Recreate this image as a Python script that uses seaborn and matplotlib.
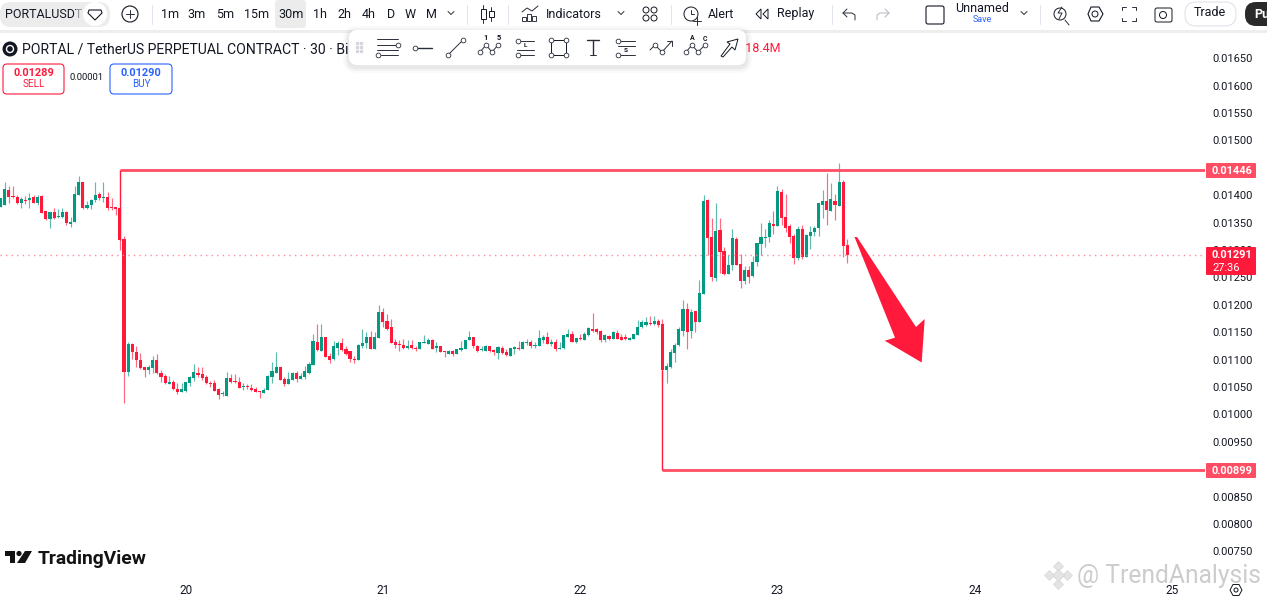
import numpy as np
import pandas as pd
import matplotlib
matplotlib.use('Agg')
import matplotlib.pyplot as plt
from matplotlib.patches import Circle, FancyBboxPatch, Polygon, Rectangle
import seaborn as sns

# 30 minute candles, prices in units of 0.00001
opens = [1379, 1382, 1410, 1399, 1396, 1386, 1392, 1391, 1396, 1385,
         1399, 1371, 1356, 1369, 1360, 1360, 1369, 1347, 1351, 1400,
         1424, 1376, 1382, 1391, 1402, 1394, 1397, 1378, 1378, 1377,
         1320, 1078, 1129, 1114, 1100, 1086, 1081, 1084, 1100, 1076,
         1070, 1056, 1060, 1047, 1040, 1042, 1057, 1067, 1076, 1073,
         1068, 1058, 1057, 1046, 1037, 1034, 1067, 1060, 1060, 1050,
         1051, 1049, 1047, 1042, 1039, 1044, 1068, 1076, 1087, 1065,
         1056, 1063, 1075, 1065, 1068, 1076, 1090, 1132, 1116, 1142,
         1107, 1101, 1122, 1131, 1119, 1115, 1101, 1099, 1124, 1130,
         1142, 1119, 1139, 1186, 1170, 1159, 1133, 1129, 1126, 1122,
         1126, 1122, 1119, 1131, 1129, 1135, 1122, 1124, 1115, 1111,
         1116, 1111, 1118, 1119, 1135, 1141, 1125, 1118, 1116, 1125,
         1117, 1112, 1121, 1114, 1107, 1119, 1122, 1119, 1131, 1132,
         1124, 1125, 1136, 1141, 1128, 1133, 1120, 1121, 1141, 1147,
         1132, 1139, 1136, 1145, 1156, 1155, 1152, 1135, 1143, 1138,
         1149, 1142, 1141, 1136, 1138, 1145, 1159, 1163, 1167, 1165,
         1170, 1165, 1081, 1086, 1112, 1126, 1152, 1193, 1152, 1188,
         1169, 1219, 1391, 1323, 1248, 1337, 1298, 1257, 1272, 1320,
         1275, 1243, 1264, 1253, 1278, 1311, 1322, 1323, 1347, 1344,
         1406, 1361, 1344, 1326, 1285, 1339, 1288, 1326, 1332, 1340,
         1382, 1390, 1372, 1390, 1381, 1424, 1309]
closes = [1394, 1411, 1396, 1396, 1385, 1393, 1390, 1395, 1386, 1397,
          1367, 1356, 1369, 1359, 1362, 1369, 1349, 1352, 1402, 1424,
          1376, 1382, 1391, 1400, 1394, 1397, 1376, 1376, 1374, 1318,
          1078, 1129, 1113, 1099, 1084, 1081, 1086, 1100, 1075, 1068,
          1057, 1060, 1046, 1040, 1047, 1060, 1068, 1078, 1071, 1067,
          1057, 1056, 1043, 1036, 1039, 1067, 1059, 1059, 1049, 1052,
          1050, 1045, 1041, 1040, 1045, 1070, 1079, 1086, 1063, 1056,
          1065, 1075, 1065, 1070, 1080, 1092, 1134, 1118, 1142, 1104,
          1099, 1125, 1130, 1118, 1110, 1101, 1100, 1127, 1130, 1142,
          1119, 1142, 1186, 1168, 1155, 1131, 1127, 1127, 1122, 1125,
          1121, 1119, 1132, 1132, 1136, 1119, 1124, 1113, 1113, 1116,
          1110, 1119, 1121, 1136, 1141, 1124, 1115, 1119, 1125, 1115,
          1113, 1123, 1112, 1108, 1121, 1123, 1119, 1133, 1132, 1124,
          1125, 1140, 1141, 1129, 1133, 1119, 1122, 1144, 1147, 1133,
          1139, 1137, 1147, 1157, 1153, 1151, 1136, 1144, 1138, 1151,
          1138, 1136, 1138, 1140, 1146, 1160, 1168, 1169, 1165, 1170,
          1163, 1081, 1089, 1114, 1127, 1155, 1193, 1151, 1187, 1169,
          1221, 1390, 1321, 1250, 1335, 1297, 1256, 1272, 1321, 1273,
          1244, 1264, 1250, 1278, 1313, 1323, 1324, 1349, 1344, 1407,
          1359, 1341, 1324, 1285, 1338, 1287, 1328, 1333, 1341, 1385,
          1390, 1373, 1393, 1382, 1424, 1308, 1291]
highs = [1395, 1425, 1416, 1417, 1400, 1397, 1399, 1404, 1400, 1400,
         1400, 1372, 1370, 1376, 1374, 1377, 1371, 1360, 1416, 1435,
         1425, 1389, 1393, 1425, 1406, 1425, 1405, 1394, 1379, 1377,
         1326, 1133, 1131, 1124, 1112, 1087, 1090, 1107, 1110, 1081,
         1073, 1070, 1063, 1057, 1057, 1060, 1070, 1092, 1086, 1086,
         1072, 1061, 1063, 1048, 1043, 1078, 1074, 1074, 1068, 1057,
         1056, 1056, 1050, 1043, 1048, 1072, 1096, 1113, 1087, 1069,
         1078, 1078, 1080, 1076, 1088, 1095, 1147, 1165, 1165, 1142,
         1112, 1134, 1134, 1139, 1124, 1116, 1107, 1128, 1155, 1150,
         1152, 1150, 1200, 1195, 1183, 1175, 1137, 1136, 1137, 1135,
         1135, 1125, 1132, 1144, 1140, 1137, 1133, 1125, 1116, 1117,
         1117, 1119, 1134, 1136, 1152, 1142, 1127, 1124, 1127, 1125,
         1119, 1125, 1125, 1120, 1121, 1125, 1134, 1134, 1138, 1135,
         1132, 1154, 1144, 1150, 1137, 1137, 1133, 1144, 1156, 1152,
         1140, 1146, 1151, 1159, 1185, 1158, 1154, 1147, 1144, 1152,
         1154, 1147, 1146, 1141, 1146, 1172, 1173, 1177, 1180, 1179,
         1175, 1175, 1093, 1119, 1130, 1159, 1208, 1203, 1193, 1188,
         1245, 1400, 1393, 1358, 1385, 1359, 1306, 1291, 1338, 1323,
         1293, 1270, 1270, 1289, 1313, 1349, 1339, 1355, 1371, 1417,
         1411, 1402, 1348, 1330, 1343, 1345, 1329, 1343, 1344, 1385,
         1410, 1440, 1422, 1402, 1458, 1427, 1320]
lows = [1378, 1382, 1385, 1394, 1384, 1377, 1384, 1377, 1385, 1383,
        1367, 1355, 1341, 1356, 1358, 1358, 1345, 1342, 1351, 1400,
        1375, 1375, 1375, 1388, 1391, 1388, 1373, 1373, 1364, 1300,
        1020, 1070, 1102, 1087, 1082, 1069, 1074, 1076, 1074, 1059,
        1056, 1056, 1045, 1037, 1040, 1040, 1051, 1061, 1069, 1063,
        1055, 1050, 1042, 1029, 1034, 1034, 1057, 1057, 1048, 1045,
        1046, 1043, 1040, 1030, 1039, 1044, 1058, 1076, 1062, 1052,
        1056, 1062, 1059, 1065, 1065, 1074, 1090, 1116, 1116, 1104,
        1093, 1099, 1108, 1116, 1108, 1096, 1094, 1099, 1122, 1121,
        1119, 1119, 1139, 1160, 1154, 1131, 1122, 1116, 1119, 1119,
        1119, 1116, 1119, 1130, 1129, 1119, 1113, 1113, 1104, 1110,
        1106, 1111, 1115, 1119, 1135, 1121, 1113, 1115, 1116, 1114,
        1109, 1102, 1111, 1107, 1106, 1111, 1118, 1119, 1126, 1122,
        1122, 1125, 1131, 1128, 1124, 1115, 1119, 1120, 1141, 1132,
        1131, 1135, 1136, 1143, 1151, 1147, 1132, 1132, 1135, 1138,
        1137, 1135, 1135, 1136, 1138, 1144, 1158, 1161, 1163, 1163,
        1159, 1060, 1058, 1084, 1095, 1124, 1143, 1119, 1139, 1151,
        1169, 1219, 1290, 1244, 1244, 1258, 1254, 1256, 1264, 1272,
        1230, 1238, 1240, 1251, 1270, 1290, 1306, 1315, 1329, 1343,
        1346, 1333, 1312, 1275, 1281, 1284, 1287, 1301, 1326, 1326,
        1358, 1346, 1371, 1355, 1381, 1288, 1277]

day_ticks = [20, 21, 22, 23, 24, 25]
price_ticks = [0.0165, 0.016, 0.0155, 0.015, 0.0145, 0.014, 0.0135, 0.013, 0.0125,
               0.012, 0.0115, 0.011, 0.0105, 0.01, 0.0095, 0.009, 0.0085, 0.008, 0.0075]
upper_level = 0.01446
lower_level = 0.00899
last_price = 0.01291

RED = '#ff1a3c'
GREEN = '#049a82'
LEVEL = '#ff4d63'
INK = '#131722'

sns.set_theme(style='white')
plt.rcParams['font.family'] = ['Roboto', 'DejaVu Sans']

df = pd.DataFrame({'open': opens, 'high': highs, 'low': lows, 'close': closes}) / 1e5
df['t'] = 20 + (df.index - 45) / 48
df['bottom'] = df[['open', 'close']].min(axis=1)
df['body'] = (df['open'] - df['close']).abs().clip(lower=0.00002)
df['up'] = df['close'] >= df['open']

W, H = 1267, 601
fig = plt.figure(figsize=(W / 100, H / 100), dpi=100, facecolor='white')

# price pane runs from y=33 to y=578 in pixels
left, right, top_px, bot_px = 0, 1205, 33, 578
ax = fig.add_axes([left / W, 1 - bot_px / H, (right - left) / W, (bot_px - top_px) / H])

for up, color in [(True, GREEN), (False, RED)]:
    sub = df[df['up'] == up]
    ax.vlines(sub['t'], sub['low'], sub['high'], color=color, linewidth=0.85, alpha=0.65)
    sns.barplot(data=sub, x='t', y='body', bottom=sub['bottom'].values, native_scale=True,
                color=color, saturation=1, width=0.76, errorbar=None, linewidth=0, ax=ax)

ax.set_xlim(20 + (-0.7 / 4.11 - 45) / 48, 20 + ((1205 - 0.7) / 4.11 - 45) / 48)
ax.set_ylim(0.008 + (524 - bot_px) / 54800, 0.008 + (524 - top_px) / 54800)

# drawn levels and the last price line
t_up = df['t'][29]
t_low = df['t'][161]
ax.hlines(upper_level, t_up, ax.get_xlim()[1], color=LEVEL, linewidth=2.0, zorder=5)
ax.hlines(lower_level, t_low, ax.get_xlim()[1], color=LEVEL, linewidth=2.0, zorder=5)
ax.vlines(t_up, df['close'][29], upper_level, color=RED, linewidth=1.0, zorder=5)
ax.vlines(t_low, lower_level, df['close'][161], color=RED, linewidth=1.0, zorder=5)
ax.axhline(last_price, color='#ff8b9c', linewidth=1.0, linestyle=(0, (1, 3)), zorder=1)

ax.set_xlabel('')
ax.set_ylabel('')
ax.set_xticks(day_ticks)
ax.set_xticklabels([str(d) for d in day_ticks])
ax.yaxis.tick_right()
ax.set_yticks(price_ticks)
ax.set_yticklabels(['%.5f' % p for p in price_ticks])
ax.tick_params(axis='y', length=0, pad=5.5, labelsize=8, labelcolor=INK)
ax.tick_params(axis='x', length=0, pad=4, labelsize=8.5, labelcolor=INK)
sns.despine(ax=ax, left=True, right=True, top=True, bottom=True)
ax.patch.set_alpha(0)

# overlay in pixel coordinates for the chart chrome
ov = fig.add_axes([0, 0, 1, 1], zorder=10)
ov.set_xlim(0, W)
ov.set_ylim(H, 0)
ov.axis('off')
ov.patch.set_alpha(0)


def label(x, y, s, size=12, color=INK, ha='center', weight='normal', **kw):
    return ov.text(x, y, s, fontsize=size * 0.72, color=color, ha=ha, va='center',
                   fontweight=weight, **kw)


def box(x0, y0, x1, y1, fc='white', ec='none', r=4, lw=1, z=3):
    ov.add_patch(FancyBboxPatch((x0 + r, y0 + r), x1 - x0 - 2 * r, y1 - y0 - 2 * r,
                                boxstyle='round,pad=%g,rounding_size=%g' % (r, r),
                                fc=fc, ec=ec, lw=lw, zorder=z))


def line(xs, ys, color='#2a2e39', lw=0.7, z=4):
    ov.plot(xs, ys, color=color, lw=lw, zorder=z, solid_capstyle='round')


def nodes(xs, ys, z=5):
    ov.plot(xs, ys, 'o', ms=3.4, mfc='white', mec='#2a2e39', mew=0.6, zorder=z, ls='none')


# top toolbar
ov.add_patch(Rectangle((0, 0), W, 30, fc='white', ec='none', zorder=2))
ov.add_patch(Rectangle((0, 30), W, 3, fc='#eeeeee', ec='none', zorder=2))
box(0, 2, 110, 27, fc='#ececec', r=11)
label(5, 14, 'PORTALUSDT', 12.5, ha='left', zorder=4)
ov.add_patch(Circle((95, 14), 12, fc='white', ec='none', zorder=5))
ov.add_patch(Rectangle((76, 4), 7, 20, fc='#ececec', alpha=0.6, ec='none', zorder=4))
ov.add_patch(Polygon([(89, 10), (101, 10), (102, 13), (95, 20), (88, 13)], fill=False, ec=INK, lw=0.8, zorder=6))
ov.add_patch(Circle((130, 14), 8, fc='white', ec=INK, lw=0.8, zorder=4))
line([126, 134], [14, 14])
line([130, 130], [10, 18])
box(275, 0, 306, 28, fc='#ececec', r=3)
for x, s in [(170, '1m'), (197, '3m'), (225, '5m'), (257, '15m'), (291, '30m'), (320, '1h'),
             (344, '2h'), (369, '4h'), (391, 'D'), (410, 'W'), (431, 'M')]:
    label(x, 14, s, 12.5, zorder=5)
for x in [152, 467, 508, 671, 832, 1040]:
    line([x, x], [5, 24], color='#e0e3eb', lw=0.7)
for x, y in [(451, 13), (621, 13), (1024, 13)]:
    line([x - 3, x, x + 3], [y - 1.5, y + 1.5, y - 1.5])

# candle icon
line([483, 483], [5, 23])
line([491, 491], [7, 21])
ov.add_patch(Rectangle((480.5, 9), 5, 10, fc='white', ec=INK, lw=0.7, zorder=5))
ov.add_patch(Rectangle((488.5, 11), 5, 6, fc='white', ec=INK, lw=0.7, zorder=5))
# indicators icon
line([522, 527, 532, 538], [12, 8, 11, 6])
for x, h in [(524, 4), (529, 7), (534, 5)]:
    ov.add_patch(Rectangle((x - 2, 21 - h), 4, h, fc='white', ec=INK, lw=0.6, zorder=4))
label(574, 14, 'Indicators', 12.5, zorder=5)
# layout grid
for x in [646, 654]:
    for y in [10, 18]:
        ov.add_patch(Circle((x, y), 3, fc='white', ec=INK, lw=0.7, zorder=4))
# alert, replay, undo, redo
ov.add_patch(Circle((691, 14), 7, fc='white', ec=INK, lw=0.7, zorder=4))
line([691, 691, 694], [10, 14, 14])
line([697, 697], [17, 25])
line([693, 701], [21, 21])
label(721, 14, 'Alert', 12.5, zorder=5)
ov.add_patch(Polygon([(761, 9), (756, 14), (761, 19)], fill=False, ec=INK, lw=0.7, zorder=4))
ov.add_patch(Polygon([(768, 9), (763, 14), (768, 19)], fill=False, ec=INK, lw=0.7, zorder=4))
label(796, 14, 'Replay', 12.5, zorder=5)
line([847, 843, 847], [9, 13, 17])
line([843, 852, 855, 855], [13, 13, 15, 20])
line([885, 889, 885], [9, 13, 17], color='#b2b5be')
line([889, 880, 877, 877], [13, 13, 15, 20], color='#b2b5be')
box(926, 6, 944, 24, fc='white', ec=INK, r=2, lw=0.8)
label(982, 9, 'Unnamed', 12.5, zorder=5)
label(982, 20, 'Save', 9, color='#2962ff', zorder=5)
# right hand icons
ov.add_patch(Circle((1060, 14), 6, fc='white', ec=INK, lw=0.7, zorder=4))
line([1065, 1069], [20, 25])
line([1062, 1058, 1062, 1059], [7, 13, 13, 19])
ov.add_patch(Polygon([(1088, 14), (1091, 7), (1099, 7), (1103, 14), (1099, 21), (1091, 21)], fill=False, ec=INK, lw=0.8, zorder=4))
ov.add_patch(Circle((1095, 14), 3, fill=False, ec=INK, lw=0.7, zorder=4))
for xs, ys in [([1122, 1122, 1126], [10, 7, 7]), ([1132, 1136, 1136], [7, 7, 10]),
               ([1122, 1122, 1126], [18, 21, 21]), ([1132, 1136, 1136], [21, 21, 18])]:
    line(xs, ys)
box(1155, 8, 1172, 22, fc='white', ec=INK, r=2, lw=0.7)
ov.add_patch(Circle((1163, 15), 3.5, fill=False, ec=INK, lw=0.7, zorder=5))
box(1185, 2, 1236, 26, fc='white', ec='#e0e3eb', r=11, lw=0.8)
label(1210, 13, 'Trade', 12.5, zorder=5)
box(1245, 2, 1285, 26, fc='#2a2a2a', r=11)
label(1254, 14, 'Pu', 12.5, color='white', ha='left', weight='bold', zorder=5)

# legend line
ov.add_patch(Circle((10, 49), 7.5, fc=INK, ec='none', zorder=4))
ov.add_patch(Circle((10, 49), 3.5, fc='none', ec='white', lw=1, zorder=5))
label(22, 49, 'PORTAL / TetherUS PERPETUAL CONTRACT · 30 · Binance', 14, ha='left', zorder=4)
label(781, 49, '.18.4M', 12.5, color=RED, ha='right', zorder=4)

# sell and buy buttons
box(3, 64, 64, 94, fc='white', ec=RED, r=4, lw=0.8)
label(33.5, 73, '0.01289', 11, color=RED, weight='bold', zorder=5)
label(33.5, 84, 'SELL', 10, color=RED, zorder=5)
label(87, 78, '0.00001', 9.5, zorder=5)
box(110, 64, 172, 94, fc='white', ec='#2962ff', r=4, lw=0.8)
label(141, 73, '0.01290', 11, color='#2962ff', weight='bold', zorder=5)
label(141, 84, 'BUY', 10, color='#2962ff', zorder=5)

# floating drawing toolbar
for grow, alpha in [(6, 0.02), (4, 0.03), (2, 0.04)]:
    box(349 - grow, 30 - grow + 2, 746 + grow, 65 + grow + 2, fc='black', r=8 + grow, z=5.0)
    ov.patches[-1].set_alpha(alpha)
box(349, 30, 746, 65, fc='white', r=8, z=5.2)
Z = 6
for x in [357, 361]:
    ov.plot([x] * 3, [43, 47, 51], 's', ms=1.4, color='#d4d6dc', zorder=Z, ls='none')
# parallel channel
line([377, 398], [39, 39], z=Z)
line([377, 396], [44.5, 44.5], z=Z)
line([381, 398], [55, 55], z=Z)
line([377, 398], [50, 50], z=Z)
nodes([398, 378], [44.5, 55], z=Z + 1)
# ray
line([415, 432], [48, 48], z=Z, lw=1)
nodes([415], [48], z=Z + 1)
# trend line
line([448, 463], [55, 40], z=Z)
nodes([448, 463], [55, 40], z=Z + 1)
# elliott wave
xw = [480, 486, 492, 498]
line(xw, [52, 45, 52, 45], z=Z)
nodes(xw, [52, 45, 52, 45], z=Z + 1)
label(486, 38, '1', 7.5, weight='bold', zorder=Z)
label(499, 38, '5', 7.5, weight='bold', zorder=Z)
# long position
line([517, 534], [41, 41], z=Z)
line([517, 534], [50, 50], z=Z)
line([517, 534], [55, 55], z=Z)
nodes([518, 518], [41, 55], z=Z + 1)
label(525, 45.5, 'L', 6.5, weight='bold', zorder=Z)
# rectangle
ov.add_patch(Rectangle((551, 40), 15, 15, fill=False, ec=INK, lw=0.7, zorder=Z))
nodes([551, 566, 551, 566], [40, 40, 55, 55], z=Z + 1)
# text tool
line([587, 599], [40, 40], z=Z, lw=1)
line([593, 593], [40, 55], z=Z, lw=1)
line([590, 596], [55, 55], z=Z)
# short position
line([618, 635], [41, 41], z=Z)
line([618, 635], [46, 46], z=Z)
line([618, 635], [55, 55], z=Z)
nodes([618, 618], [41, 55], z=Z + 1)
label(626, 50.5, 'S', 6.5, weight='bold', zorder=Z)
# forecast arrow
line([650, 655, 662, 672], [50, 45, 52, 41], z=Z)
line([667, 672, 672], [41, 41, 46], z=Z)
nodes([655, 662], [45, 52], z=Z + 1)
# abcd
xw = [686, 692, 698, 705]
line(xw, [52, 45, 52, 45], z=Z)
nodes(xw, [52, 45, 52, 45], z=Z + 1)
label(692, 38, 'A', 7, weight='bold', zorder=Z)
label(705, 39, 'C', 7, weight='bold', zorder=Z)
# arrow marker
ov.add_patch(Polygon([(721, 56), (730, 44), (727, 42), (738, 39), (735, 50), (732, 47), (723, 57)],
                     fill=False, ec=INK, lw=0.7, zorder=Z))

# price tags
box(1206, 163, 1256, 178, fc=LEVEL, r=1)
label(1232, 170.5, '0.01446', 11, color='white', weight='bold', zorder=5)
box(1206, 247, 1256, 275, fc=RED, r=1)
label(1212, 255, '0.01291', 11, color='white', weight='bold', ha='left', zorder=5)
label(1212, 268, '27:36', 11, color='white', ha='left', zorder=5)
box(1206, 463, 1256, 478, fc=LEVEL, r=1)
label(1232, 470.5, '0.00899', 11, color='white', weight='bold', zorder=5)

# hand drawn arrow
ov.add_patch(Polygon([(854.5, 237), (857, 237), (916, 327), (924.7, 319), (921.7, 362.5),
                      (884.7, 340.7), (895, 337.7)], fc=RED, ec='none', zorder=4))

# TradingView logo
ov.add_patch(Polygon([(5, 551), (15, 551), (15, 563), (10, 563), (10, 556), (5, 556)], fc='#131313', ec='none', zorder=4))
ov.add_patch(Circle((19, 553.5), 2.6, fc='#131313', ec='none', zorder=4))
ov.add_patch(Polygon([(25, 551), (32, 551), (25, 563), (17, 563)], fc='#131313', ec='none', zorder=4))
label(38, 558.5, 'TradingView', 19.3, color='#131313', ha='left', weight='bold', zorder=4)

# settings hexagon on the time axis
ov.add_patch(Polygon([(1230, 590), (1233, 584.5), (1239, 584.5), (1242, 590), (1239, 595.5), (1233, 595.5)],
                     fill=False, ec=INK, lw=0.7, zorder=4))
ov.add_patch(Circle((1236, 590), 2, fill=False, ec=INK, lw=0.7, zorder=4))

# watermark
for x, y, s in [(1058, 566, 5), (1049, 575, 5), (1067, 575, 5), (1058, 584, 5), (1058, 575, 6)]:
    ov.plot([x], [y], 'D', ms=s, mfc='#e4e4e4', mec='#d0d0d0', mew=0.4, zorder=8)
label(1077, 576, '@ TrendAnalysis', 24.6, color='#c4c4c4', ha='left', alpha=0.85, zorder=8)

fig.savefig('out.png', dpi=100)
